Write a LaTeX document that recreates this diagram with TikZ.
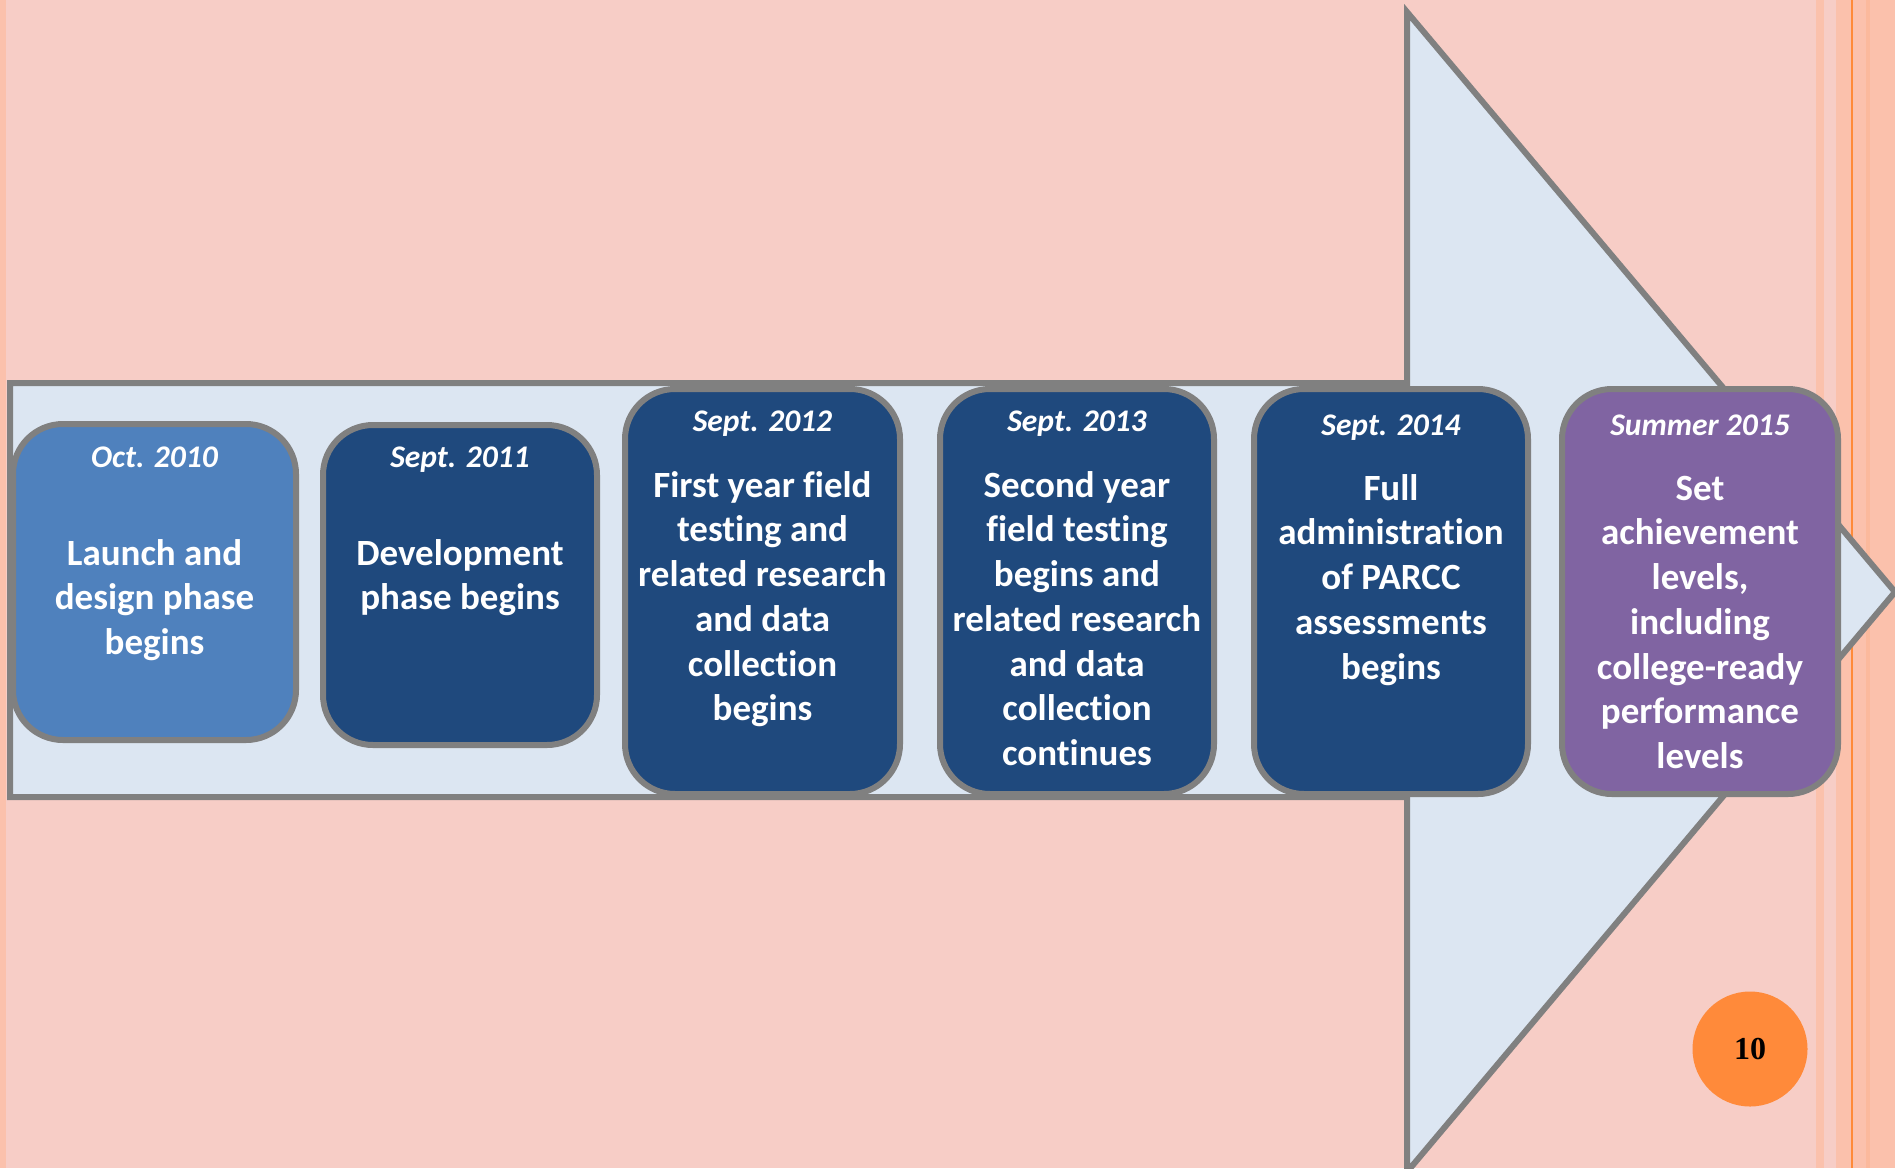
\documentclass[tikz,border=0pt]{standalone}
\usepackage{fontspec}
\setmainfont{Carlito}[Ligatures=NoCommon]
\newfontfamily\numfont{Liberation Serif}
\definecolor{bgpink}{HTML}{F7CDC6}
\definecolor{peach}{HTML}{FBC1AC}
\definecolor{peachdk}{HTML}{FBB99C}
\definecolor{stripeor}{HTML}{FF8A38}
\definecolor{shaftfill}{HTML}{DCE6F2}
\definecolor{edgegray}{HTML}{808080}
\definecolor{lightblue}{HTML}{4F81BD}
\definecolor{darkblue}{HTML}{1F497D}
\definecolor{purp}{HTML}{8064A2}
\definecolor{badge}{HTML}{FF8A3A}
\tikzset{
  eventbox/.style={draw=edgegray, line width=6pt, rounded corners=50pt, rectangle,
    anchor=north west, inner sep=0pt, outer sep=0pt},
  datelbl/.style={anchor=base, inner sep=0pt, text=white,
    font=\fontsize{31.5}{37}\selectfont\bfseries\itshape},
  bodylbl/.style={anchor=north, inner sep=0pt, text=white, align=center,
    font=\fontsize{37}{44.7}\selectfont\bfseries}
}
\newcommand{\fl}{\rule{0pt}{32pt}}
\begin{document}
\begin{tikzpicture}[x=1pt,y=-1pt]
\useasboundingbox (0,0) rectangle (1895,1168);
% background
\fill[bgpink] (0,0) rectangle (1895,1168);
\fill[peach] (0,0) rectangle (6,1168);
\fill[peach] (1816,0) rectangle (1824,1168);
\fill[peach] (1836,0) rectangle (1895,1168);
\fill[peachdk] (1866,0) rectangle (1870,1168);
\fill[stripeor] (1851,0) rectangle (1853,1168);
% big arrow
\draw[draw=edgegray, fill=shaftfill, line width=6pt, line join=miter]
  (10,383) -- (1407,383) -- (1407,12) -- (1895,592) -- (1407,1172) -- (1407,797) -- (10,797) -- cycle;
% boxes
\node[eventbox, fill=lightblue, minimum width=283pt, minimum height=316pt] (b1) at (13,424) {};
\node[eventbox, fill=darkblue, minimum width=274pt, minimum height=320pt] (b2) at (323,425) {};
\node[eventbox, fill=darkblue, minimum width=275pt, minimum height=405pt] (b3) at (625,389) {};
\node[eventbox, fill=darkblue, minimum width=274pt, minimum height=405pt] (b4) at (940,389) {};
\node[eventbox, fill=darkblue, minimum width=274pt, minimum height=405pt] (b5) at (1254,389) {};
\node[eventbox, fill=purp, minimum width=276pt, minimum height=405pt] (b6) at (1562,389) {};
% dates
\node[datelbl] (d1) at (154.5,467) {Oct. 2010};
\node[datelbl] (d2) at (460,467) {Sept. 2011};
\node[datelbl] (d3) at (762.5,431) {Sept. 2012};
\node[datelbl] (d4) at (1077,431) {Sept. 2013};
\node[datelbl] (d5) at (1391,435) {Sept. 2014};
\node[datelbl] (d6) at (1700,435) {Summer 2015};
% bodies
\node[bodylbl] (t1) at (154.5,533) {\fl Launch and\\design phase\\begins};
\node[bodylbl] (t2) at (460,533) {\fl Development\\phase begins};
\node[bodylbl] (t3) at (762.5,465) {\fl First year field\\testing and\\related research\\and data\\collection\\begins};
\node[bodylbl] (t4) at (1077,465) {\fl Second year\\field testing\\begins and\\related research\\and data\\collection\\continues};
\node[bodylbl] (t5) at (1391,468) {\fl Full\\administration\\of PARCC\\assessments\\begins};
\node[bodylbl] (t6) at (1700,468) {\fl Set\\achievement\\levels,\\including\\college-ready\\performance\\levels};
% page badge
\node[circle, fill=badge, minimum size=115pt, inner sep=0pt,
  font=\numfont\fontsize{32}{38}\selectfont\bfseries] (pg) at (1750,1049) {10};
\end{tikzpicture}
\end{document}
